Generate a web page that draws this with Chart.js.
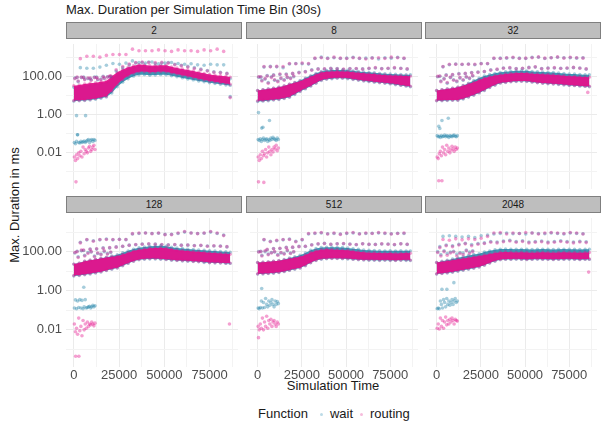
<!DOCTYPE html>
<html>
<head>
<meta charset="utf-8">
<script src="https://cdn.jsdelivr.net/npm/chart.js@4.4.1/dist/chart.umd.min.js"></script>
<style>
  body { margin: 0; width: 601px; height: 430px; position: relative; background: #fff; overflow: hidden;
         font-family: "Liberation Sans", Arial, sans-serif; color: #1a1a1a; }
  canvas { position: absolute; }
  .strip { position: absolute; box-sizing: border-box; background: #bebebe; border: 1px solid #7f7f7f;
           font-size: 10px; text-align: center; line-height: 15px; color: #1a1a1a; }
  .txt { position: absolute; font-size: 13px; white-space: nowrap; }
  .dot { display: inline-block; width: 3px; height: 3px; border-radius: 50%; vertical-align: middle; margin: 0 7px 0 7px; }
</style>
</head>
<body>
<div class="txt" style="left:66px;top:2px;">Max. Duration per Simulation Time Bin (30s)</div>
<div class="txt" style="left:14px;top:205px;transform:translate(-50%,-50%) rotate(-90deg);">Max. Duration in ms</div>
<div class="txt" style="left:333px;top:378px;transform:translateX(-50%);">Simulation Time</div>
<div class="txt" style="left:258px;top:406px;">Function<span class="dot" style="margin-left:12px;background:#bcdbe7"></span>wait<span class="dot" style="background:#f6bcdc"></span>routing</div>
<script>
// facet labels
const panelLabels = ["2", "8", "32", "128", "512", "2048"];

// time positions (s)
const binTimes = [0, 3000, 6000, 9000, 12000, 15000, 18000, 21000, 24000, 27000, 30000, 33000, 36000, 39000, 42000,
  45000, 48000, 51000, 54000, 57000, 60000, 63000, 66000, 69000, 72000, 75000, 78000, 81000, 84000, 86400];
const hourTimes = [3600, 7200, 10800, 14400, 18000, 21600, 25200, 28800, 32400, 36000, 39600, 43200, 46800, 50400,
  54000, 57600, 61200, 64800, 68400, 72000, 75600, 79200, 82800];
const midTimes = [1800, 5400, 9000, 12600, 16200, 19800, 23400, 27000, 30600, 34200, 37800, 41400, 45000, 48600,
  52200, 55800, 59400, 63000, 66600, 70200, 73800, 77400, 81000, 84600];
const earlyTimes = [600, 2400, 4200, 6000, 7800, 9600, 11400, 13200, 15000, 16800, 18600, 20400];
const lowTimes = [300, 900, 1500, 2100, 2700, 3300, 3900, 4500, 5100, 5700, 6300, 6900, 7500, 8100, 8700, 9300,
  9900, 10500, 11100, 11700];

// dense band of max durations (ms), lower and upper edge, one row per panel
const routingBandLow = [
  [5.6, 5.8, 6.0, 6.6, 7.2, 8.3, 9.5, 18, 40, 71, 112, 151, 182, 186, 174, 178, 186, 182, 158, 141, 120, 105, 91, 79, 69, 60, 54, 48, 44, 40],
  [5.4, 5.6, 5.9, 6.3, 6.8, 7.6, 8.9, 12.6, 17.8, 25, 34, 48, 68, 79, 85, 89, 89, 85, 76, 69, 63, 59, 55, 51, 48, 45, 41, 37, 34, 32],
  [5.6, 5.8, 5.9, 6.0, 6.0, 7.1, 8.9, 11.2, 14.8, 20, 28, 38, 48, 52, 56, 59, 60, 59, 54, 50, 47, 45, 43, 41, 39, 37, 35, 34, 32, 32],
  [6.0, 6.3, 6.9, 7.6, 8.5, 9.5, 11.2, 13.2, 15.1, 20, 26, 33, 40, 43, 44, 44, 43, 41, 38, 36, 35, 34, 32, 31, 30, 28, 28, 27, 26, 26],
  [7.4, 7.6, 7.9, 8.3, 8.9, 10, 11.5, 13.2, 15.1, 20, 28, 36, 43, 45, 46, 46, 45, 44, 42, 40, 39, 38, 38, 37, 38, 37, 36, 37, 38, 37],
  [7.4, 7.9, 8.5, 9.3, 10.5, 11.7, 13.2, 14.8, 17, 21, 27, 34, 40, 42, 42, 43, 42, 41, 42, 43, 42, 42, 41, 42, 42, 43, 42, 41, 42, 42]
];
const routingBandHigh = [
  [34, 37, 42, 46, 49, 54, 60, 105, 170, 240, 316, 380, 437, 427, 380, 389, 407, 398, 331, 288, 257, 229, 200, 174, 151, 132, 120, 112, 105, 95],
  [19, 21, 23, 25, 28, 33, 40, 48, 58, 76, 100, 132, 166, 182, 191, 195, 191, 186, 174, 162, 151, 145, 138, 129, 123, 117, 115, 112, 110, 107],
  [19, 21, 23, 25, 28, 34, 42, 52, 68, 85, 100, 115, 129, 138, 148, 155, 158, 155, 145, 138, 135, 132, 126, 120, 112, 107, 105, 100, 98, 95],
  [23, 26, 32, 36, 40, 45, 50, 55, 60, 72, 89, 110, 126, 138, 148, 155, 158, 151, 135, 123, 115, 107, 102, 98, 93, 89, 85, 81, 78, 74],
  [28, 29, 30, 32, 34, 38, 43, 48, 54, 68, 91, 112, 126, 132, 129, 126, 123, 117, 107, 100, 93, 89, 87, 85, 83, 85, 81, 83, 85, 83],
  [28, 30, 33, 36, 41, 45, 49, 54, 59, 68, 76, 85, 93, 95, 93, 91, 93, 91, 89, 91, 93, 91, 89, 91, 93, 91, 91, 89, 91, 91]
];
const waitBandLow = [
  [5.2, 5.4, 5.6, 6.0, 6.6, 7.4, 8.5, 14, 30, 52, 79, 107, 126, 129, 120, 123, 129, 126, 112, 100, 87, 76, 68, 60, 54, 48, 44, 40, 37, 35],
  [5.0, 5.2, 5.5, 5.9, 6.3, 7.1, 8.3, 11.7, 16.6, 23, 32, 45, 63, 74, 79, 83, 83, 79, 71, 65, 59, 55, 51, 48, 45, 42, 38, 35, 32, 30],
  [5.4, 5.5, 5.6, 5.8, 5.8, 6.8, 8.5, 10.7, 14.1, 19, 27, 36, 46, 50, 54, 56, 58, 56, 52, 48, 45, 43, 41, 39, 37, 35, 34, 32, 31, 30],
  [5.7, 6.0, 6.6, 7.2, 8.1, 9.1, 10.7, 12.6, 14.5, 19, 25, 32, 38, 41, 42, 42, 41, 39, 36, 35, 33, 32, 31, 30, 28, 27, 26, 26, 25, 25],
  [7.1, 7.2, 7.6, 7.9, 8.5, 9.5, 11, 12.6, 14.5, 19, 27, 35, 41, 43, 44, 44, 43, 42, 40, 38, 37, 36, 36, 35, 36, 35, 35, 36, 35, 35],
  [7.1, 7.6, 8.1, 8.9, 10, 11.2, 12.6, 14.1, 16.2, 20, 26, 32, 38, 40, 40, 41, 40, 39, 40, 41, 40, 40, 39, 40, 40, 41, 40, 39, 40, 40]
];
const waitBandHigh = [
  [28, 31, 35, 38, 41, 45, 50, 83, 138, 200, 263, 316, 363, 355, 316, 324, 339, 331, 275, 240, 214, 191, 166, 145, 126, 110, 100, 93, 87, 79],
  [19, 21, 23, 25, 28, 33, 40, 50, 63, 85, 115, 151, 191, 214, 224, 229, 224, 219, 204, 191, 178, 170, 162, 151, 145, 138, 135, 132, 129, 126],
  [19, 21, 23, 25, 28, 35, 46, 63, 85, 110, 132, 151, 170, 182, 195, 204, 209, 204, 191, 182, 178, 174, 166, 158, 148, 141, 138, 132, 129, 126],
  [23, 26, 32, 36, 40, 46, 52, 60, 69, 87, 110, 135, 158, 174, 186, 195, 200, 191, 170, 155, 145, 135, 129, 123, 117, 112, 107, 102, 98, 93],
  [28, 29, 30, 32, 34, 40, 47, 55, 65, 85, 117, 145, 162, 170, 170, 166, 162, 155, 141, 132, 123, 117, 115, 112, 110, 112, 110, 112, 110, 110],
  [28, 32, 36, 42, 48, 55, 63, 71, 79, 95, 110, 126, 135, 138, 135, 132, 135, 132, 129, 132, 135, 132, 129, 132, 135, 132, 132, 129, 132, 132]
];

// hourly spikes (ms) at hourTimes
const routingTop = [
  [890, 1200, 1200, 1070, 1320, 1480, 1480, 1480, 2820, 2340, 2340, 2340, 2570, 2340, 2150, 2570, 2340, 2340, 2150, 2570, 2340, 2820, 2150],
  [340, 330, 350, 340, 500, 480, 520, 500, 950, 1000, 900, 1070, 950, 900, 1000, 950, 850, 950, 1000, 900, 1070, 1000, 950],
  [340, 450, 450, 450, 450, 450, 480, 500, 950, 900, 1000, 1050, 900, 950, 1000, 1100, 950, 1000, 1100, 950, 1050, 1000, 950],
  [280, 420, 340, 420, 420, 420, 420, 420, 830, 890, 890, 830, 890, 740, 740, 890, 1070, 890, 830, 890, 1070, 890, 660],
  [420, 320, 380, 420, 420, 320, 420, 850, 890, 950, 800, 890, 760, 890, 950, 800, 890, 850, 950, 890, 800, 850, 890],
  [420, 380, 450, 400, 450, 420, 480, 600, 890, 950, 800, 890, 850, 950, 890, 800, 890, 950, 890, 850, 950, 890, 800]
];
const waitTop = [
  [300, 280, 280, 320, 400, 500, 450, 520, 680, 560, 520, 600, 480, 520, 560, 500, 450, 480, 420, 400, 450, 420, 420],
  [320, 350, 330, 300, 470, 500, 480, 460, 900, 1070, 950, 1000, 900, 950, 1050, 900, 950, 1000, 850, 1000, 950, 1050, 900],
  [330, 430, 460, 440, 470, 430, 500, 480, 900, 950, 950, 1000, 950, 900, 1050, 1050, 900, 1000, 1050, 1000, 1000, 950, 1000],
  [300, 400, 360, 400, 440, 400, 430, 410, 800, 850, 900, 850, 870, 760, 780, 850, 1000, 900, 850, 870, 1000, 850, 700],
  [400, 340, 360, 400, 440, 340, 400, 800, 850, 900, 820, 850, 800, 850, 900, 820, 850, 870, 900, 850, 820, 870, 850],
  [600, 650, 600, 560, 600, 520, 650, 700, 800, 850, 900, 820, 850, 800, 900, 850, 820, 900, 850, 800, 900, 850, 820]
];

// second tier above the band (ms) at midTimes
const routingMid = [
  [95, 90, 85, 90, 100, 110, 230, 340, 460, 560, 600, 550, 550, 570, 520, 420, 370, 320, 270, 230, 200, 170, 160, 145],
  [100, 110, 120, 140, 130, 150, 160, 180, 220, 250, 260, 270, 260, 250, 260, 270, 250, 280, 300, 260, 280, 300, 270, 260],
  [110, 120, 130, 140, 150, 160, 170, 190, 220, 250, 280, 300, 260, 280, 300, 330, 260, 280, 300, 270, 290, 310, 280, 260],
  [100, 120, 130, 140, 150, 160, 170, 190, 210, 230, 240, 250, 240, 230, 220, 230, 210, 220, 200, 210, 190, 200, 190, 180],
  [100, 130, 140, 150, 160, 170, 180, 190, 220, 250, 260, 240, 250, 260, 240, 230, 250, 240, 230, 250, 240, 230, 250, 240],
  [160, 200, 180, 220, 250, 200, 240, 260, 300, 280, 320, 350, 300, 330, 280, 300, 320, 280, 300, 330, 300, 280, 310, 290]
];
const waitMid = [
  [90, 95, 80, 95, 105, 100, 200, 300, 420, 520, 560, 600, 500, 520, 560, 450, 400, 350, 300, 250, 210, 180, 170, 150],
  [95, 115, 125, 130, 140, 145, 170, 190, 230, 260, 250, 280, 270, 240, 270, 260, 260, 270, 290, 270, 270, 290, 280, 250],
  [105, 125, 125, 145, 145, 165, 175, 185, 230, 240, 290, 290, 270, 270, 310, 320, 270, 290, 290, 280, 280, 300, 290, 250],
  [105, 115, 135, 135, 155, 155, 175, 185, 215, 225, 245, 245, 245, 225, 225, 225, 215, 215, 205, 205, 195, 195, 195, 175],
  [105, 125, 145, 145, 165, 165, 185, 185, 225, 245, 265, 235, 255, 255, 245, 225, 255, 235, 235, 245, 245, 225, 255, 235],
  [180, 220, 200, 240, 270, 230, 260, 280, 330, 310, 350, 380, 330, 360, 310, 330, 350, 310, 330, 360, 330, 310, 340, 320]
];

// scattered points above the band in the first hours (ms) at earlyTimes
const routingEarly = [
  [80, 60, 95, 70, 85, 65, 90, 75, 70, 85, 95, 110],
  [100, 60, 80, 45, 90, 70, 55, 85, 65, 95, 80, 110],
  [105, 55, 75, 50, 95, 65, 60, 90, 70, 100, 85, 115],
  [90, 50, 120, 60, 80, 100, 55, 85, 70, 110, 75, 95],
  [95, 60, 110, 70, 85, 100, 65, 90, 75, 120, 80, 100],
  [90, 60, 100, 65, 85, 95, 60, 80, 70, 110, 80, 100]
];
const waitEarly = [
  [85, 55, 90, 75, 80, 70, 95, 70, 75, 80, 100, 105],
  [95, 65, 75, 50, 100, 65, 60, 80, 70, 90, 85, 100],
  [100, 60, 80, 45, 90, 70, 55, 85, 65, 95, 80, 110],
  [85, 55, 110, 65, 90, 95, 60, 80, 75, 100, 80, 90],
  [100, 65, 100, 75, 90, 95, 70, 85, 80, 110, 85, 95],
  [100, 70, 110, 80, 95, 105, 75, 90, 85, 120, 95, 110]
];

// fast cluster in the first hours (ms) at lowTimes
const routingLowCluster = [
  [0.006, 0.004, 0.008, 0.005, 0.01, 0.007, 0.012, 0.006, 0.02, 0.009, 0.015, 0.012, 0.01, 0.018, 0.022, 0.012, 0.015, 0.02, 0.025, 0.015],
  [0.006, 0.004, 0.008, 0.005, 0.012, 0.007, 0.009, 0.015, 0.006, 0.01, 0.02, 0.012, 0.008, 0.015, 0.011, 0.02, 0.016, 0.025, 0.013, 0.018],
  [0.006, 0.005, 0.009, 0.012, 0.007, 0.02, 0.01, 0.015, 0.008, 0.025, 0.012, 0.018, 0.01, 0.014, 0.022, 0.016, 0.012, 0.02, 0.015, 0.018],
  [0.02, 0.008, 0.012, 0.006, 0.04, 0.009, 0.015, 0.005, 0.03, 0.01, 0.02, 0.012, 0.025, 0.015, 0.02, 0.018, 0.025, 0.02, 0.016, 0.022],
  [0.015, 0.01, 0.02, 0.012, 0.04, 0.01, 0.025, 0.015, 0.05, 0.012, 0.03, 0.02, 0.035, 0.015, 0.025, 0.03, 0.02, 0.015, 0.025, 0.02],
  [0.012, 0.02, 0.011, 0.04, 0.015, 0.03, 0.012, 0.025, 0.045, 0.018, 0.03, 0.02, 0.035, 0.025, 0.04, 0.03, 0.02, 0.035, 0.03, 0.028]
];
const waitLowCluster = [
  [0.035, 0.03, 0.04, 0.09, 0.035, 0.033, 0.04, 0.035, 0.038, 0.042, 0.035, 0.04, 0.045, 0.05, 0.035, 0.045, 0.05, 0.04, 0.05, 0.045],
  [0.05, 0.045, 0.055, 0.04, 0.05, 0.06, 0.045, 0.05, 0.055, 0.04, 0.05, 0.045, 0.06, 0.05, 0.065, 0.055, 0.05, 0.045, 0.06, 0.05],
  [0.08, 0.07, 0.075, 0.065, 0.08, 0.07, 0.075, 0.085, 0.07, 0.08, 0.075, 0.065, 0.08, 0.075, 0.07, 0.08, 0.085, 0.075, 0.07, 0.08],
  [0.13, 0.34, 0.12, 0.3, 0.14, 0.35, 0.13, 0.32, 0.12, 0.15, 0.35, 0.13, 0.14, 0.15, 0.16, 0.13, 0.15, 0.18, 0.15, 0.17],
  [0.13, 0.12, 0.14, 0.3, 0.13, 0.25, 0.14, 0.4, 0.2, 0.15, 0.3, 0.18, 0.25, 0.35, 0.2, 0.15, 0.3, 0.2, 0.28, 0.22],
  [0.12, 0.13, 0.12, 0.3, 0.2, 0.13, 0.35, 0.25, 0.15, 0.4, 0.2, 0.3, 0.18, 0.25, 0.35, 0.2, 0.3, 0.4, 0.25, 0.3]
];

// isolated points [time, ms]
const routingStray = [
  [[1200, 0.0003], [86400, 8]],
  [[500, 0.0003], [3500, 0.00028]],
  [[1200, 0.00034], [3000, 0.00034], [85500, 15]],
  [[1000, 0.00045], [2800, 0.00045], [86000, 0.02]],
  [[500, 0.004]],
  [[86000, 9]]
];
const waitStray = [
  [[1500, 0.9], [6500, 0.9], [2000, 0.09], [86400, 9]],
  [[500, 1.3], [2300, 0.2], [3000, 0.22], [6700, 0.5]],
  [[1200, 0.25], [1800, 0.19], [3000, 0.5], [6600, 0.66]],
  [[5500, 1.5]],
  [[2300, 1.3]],
  [[3000, 1.2], [5800, 1.2], [9750, 2.6]]
];

// axes
const xTicks = [0, 12500, 25000, 37500, 50000, 62500, 75000, 87500];
const xLabelTicks = [0, 25000, 50000, 75000];
const yTicks = [0.001, 0.01, 0.1, 1, 10, 100, 1000];
const yLabelTicks = [0.01, 1, 100];
const xMin = -4320, xMax = 90720;
const yMin = 0.000126, yMax = 5250;

// layout
const colLeft = [66, 246, 425];
const rowTop = [40, 214];
const panelW = 176, panelH = 153;
const yAxisW = 66, xAxisH = 22;

const routingDot = "rgba(228, 18, 140, 0.4)";
const routingFill = "rgba(228, 18, 140, 0.95)";
const waitDot = "rgba(33, 131, 167, 0.4)";
const waitFill = "rgba(33, 131, 167, 0.85)";
const tickFont = { family: "Liberation Sans", size: 13 };

function toPoints(xs, ys) {
  return xs.map((x, j) => ({ x: x, y: ys[j] }));
}
function pairPoints(pairs) {
  return pairs.map(p => ({ x: p[0], y: p[1] }));
}

function bandDatasets(low, high, dot, fill) {
  const common = {
    type: "line", borderColor: "transparent", borderWidth: 0, tension: 0,
    pointRadius: 1.7, pointBackgroundColor: dot, pointBorderColor: "transparent", pointBorderWidth: 0
  };
  return [
    Object.assign({ data: toPoints(binTimes, low), fill: false }, common),
    Object.assign({ data: toPoints(binTimes, high), fill: "-1", backgroundColor: fill }, common)
  ];
}

panelLabels.forEach((label, i) => {
  const col = i % 3, row = Math.floor(i / 3);

  const strip = document.createElement("div");
  strip.className = "strip";
  strip.style.left = colLeft[col] + "px";
  strip.style.top = (rowTop[row] - 18) + "px";
  strip.style.width = panelW + "px";
  strip.style.height = "17px";
  strip.textContent = label;
  document.body.appendChild(strip);

  const canvas = document.createElement("canvas");
  const w = panelW + (col === 0 ? yAxisW : 0);
  const h = panelH + (row === 1 ? xAxisH : 0);
  canvas.width = w; canvas.height = h;
  canvas.style.left = (col === 0 ? colLeft[0] - yAxisW : colLeft[col]) + "px";
  canvas.style.top = rowTop[row] + "px";
  document.body.appendChild(canvas);

  const routingDots = [].concat(
    toPoints(hourTimes, routingTop[i]), toPoints(midTimes, routingMid[i]),
    toPoints(earlyTimes, routingEarly[i]), toPoints(lowTimes, routingLowCluster[i]),
    pairPoints(routingStray[i]));
  const waitDots = [].concat(
    toPoints(hourTimes, waitTop[i]), toPoints(midTimes, waitMid[i]),
    toPoints(earlyTimes, waitEarly[i]), toPoints(lowTimes, waitLowCluster[i]),
    pairPoints(waitStray[i]));

  const scatterStyle = { type: "scatter", pointRadius: 1.8, borderWidth: 0, borderColor: "transparent" };

  new Chart(canvas.getContext("2d"), {
    type: "scatter",
    data: {
      datasets: [
        Object.assign({ data: routingDots, backgroundColor: routingDot }, scatterStyle),
        Object.assign({ data: waitDots, backgroundColor: waitDot }, scatterStyle),
        ...bandDatasets(routingBandLow[i], routingBandHigh[i], routingDot, routingFill),
        ...bandDatasets(waitBandLow[i], waitBandHigh[i], waitDot, waitFill)
      ]
    },
    options: {
      responsive: false,
      animation: false,
      events: [],
      layout: { padding: 0 },
      plugins: { legend: { display: false }, tooltip: { enabled: false } },
      scales: {
        x: {
          type: "linear", min: xMin, max: xMax,
          afterBuildTicks: s => { s.ticks = xTicks.map(v => ({ value: v })); },
          afterFit: s => { s.height = row === 1 ? xAxisH : 0; s.paddingLeft = 0; s.paddingRight = 0; },
          ticks: {
            display: row === 1, autoSkip: false, maxRotation: 0, padding: 1,
            color: "#4d4d4d", font: tickFont,
            callback: v => xLabelTicks.includes(v) ? String(v) : ""
          },
          grid: {
            drawTicks: false,
            color: c => xLabelTicks.includes(c.tick.value) ? "#ebebeb" : "#f3f3f3",
            lineWidth: 1
          },
          border: { display: false }
        },
        y: {
          type: "logarithmic", min: yMin, max: yMax,
          afterBuildTicks: s => { s.ticks = yTicks.map(v => ({ value: v })); },
          afterFit: s => { s.width = col === 0 ? yAxisW : 0; s.paddingTop = 0; s.paddingBottom = 0; },
          ticks: {
            display: col === 0, autoSkip: false, padding: 4,
            color: "#4d4d4d", font: tickFont,
            callback: v => yLabelTicks.includes(v) ? v.toFixed(2) : ""
          },
          grid: {
            drawTicks: false,
            color: c => yLabelTicks.includes(c.tick.value) ? "#ebebeb" : "#f3f3f3",
            lineWidth: 1
          },
          border: { display: false }
        }
      }
    }
  });
});
</script>
</body>
</html>
